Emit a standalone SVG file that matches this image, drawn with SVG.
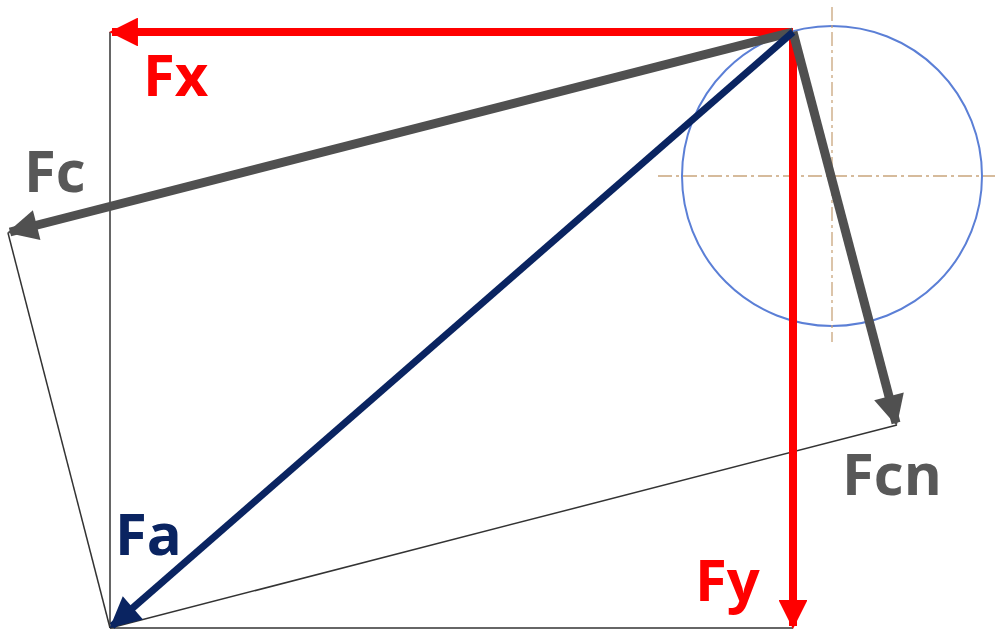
<svg xmlns="http://www.w3.org/2000/svg" width="995" height="630" viewBox="0 0 995 630">
<style>
.thin{stroke:#333;stroke-width:1.5;fill:none}
.lbl{font-family:"Open Sans","DejaVu Sans",sans-serif;font-weight:bold;font-size:58px}
.red{fill:#ff0000}.gray{fill:#585858}.navy{fill:#0a2461}
</style>
<defs>
<marker id="ar" viewBox="0 0 10 10" refX="9" refY="5" markerWidth="4" markerHeight="3.6" orient="auto" markerUnits="strokeWidth"><path d="M0,0 L10,5 L0,10 z" fill="#ff0000"/></marker>
<marker id="ag" viewBox="0 0 10 10" refX="9" refY="5" markerWidth="3.8" markerHeight="3.4" orient="auto" markerUnits="strokeWidth"><path d="M0,0 L10,5 L0,10 z" fill="#505050"/></marker>
<marker id="an" viewBox="0 0 10 10" refX="9" refY="5" markerWidth="5" markerHeight="4.4" orient="auto" markerUnits="strokeWidth"><path d="M0,0 L10,5 L0,10 z" fill="#0a2461"/></marker>
</defs>
<g id="construction">
<circle cx="832" cy="176" r="150" fill="none" stroke="#5b7fd6" stroke-width="2"/>
<line x1="658" y1="176" x2="995" y2="176" stroke="#c9a57c" stroke-width="1.3" stroke-dasharray="14,4,3,4"/>
<line x1="832" y1="7" x2="832" y2="342" stroke="#c9a57c" stroke-width="1.3" stroke-dasharray="14,4,3,4"/>
<line class="thin" x1="110" y1="32" x2="110" y2="628"/>
<line class="thin" x1="110" y1="628" x2="793" y2="628"/>
<line class="thin" x1="8" y1="233" x2="110" y2="628"/>
<line class="thin" x1="110" y1="628" x2="897" y2="425"/>
</g>
<g id="connectors">
<line x1="793" y1="32" x2="112" y2="32" stroke="#ff0000" stroke-width="8" marker-end="url(#ar)"/>
<line x1="793" y1="32" x2="793" y2="626" stroke="#ff0000" stroke-width="8" marker-end="url(#ar)"/>
<line x1="793" y1="32" x2="10" y2="232" stroke="#505050" stroke-width="9" marker-end="url(#ag)"/>
<line x1="793" y1="32" x2="896" y2="423" stroke="#505050" stroke-width="9" marker-end="url(#ag)"/>
<line x1="793" y1="32" x2="112" y2="626" stroke="#0a2461" stroke-width="7" marker-end="url(#an)"/>
</g>
<g id="Fx"><text class="lbl red" x="143" y="96">Fx</text></g>
<g id="Fc"><text class="lbl gray" x="24" y="192">Fc</text></g>
<g id="Fcn"><text class="lbl gray" x="842" y="495">Fcn</text></g>
<g id="Fa"><text class="lbl navy" x="115" y="555">Fa</text></g>
<g id="Fy"><text class="lbl red" x="695" y="601">Fy</text></g>
</svg>
